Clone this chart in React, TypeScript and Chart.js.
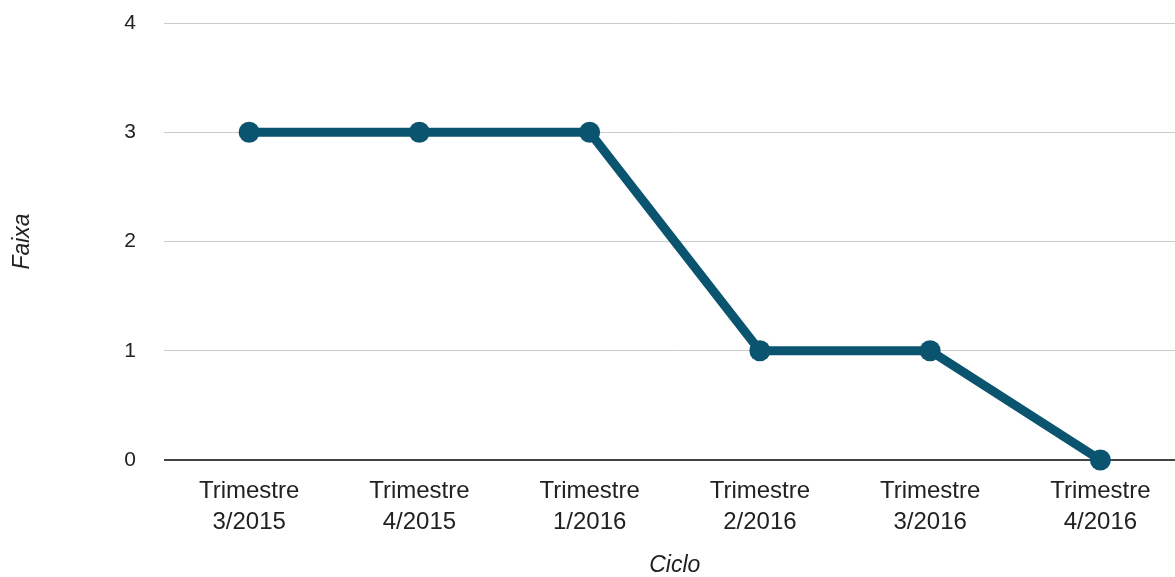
import React, { useEffect, useRef } from "react";
import { Chart, registerables } from "chart.js";

Chart.register(...registerables);

const categories: string[][] = [
  ["Trimestre", "3/2015"],
  ["Trimestre", "4/2015"],
  ["Trimestre", "1/2016"],
  ["Trimestre", "2/2016"],
  ["Trimestre", "3/2016"],
  ["Trimestre", "4/2016"],
];
const faixaValues: number[] = [3, 3, 3, 1, 1, 0];
const yTicks: number[] = [0, 1, 2, 3, 4];

const LINE_COLOR = "#0a5470";
const FONT = "Arial, 'Liberation Sans', sans-serif";

export default function App() {
  const ref = useRef<HTMLCanvasElement | null>(null);

  useEffect(() => {
    if (!ref.current) return;
    const chart = new Chart(ref.current, {
      type: "line",
      data: {
        labels: categories,
        datasets: [
          {
            label: "Faixa",
            data: faixaValues,
            borderColor: LINE_COLOR,
            backgroundColor: LINE_COLOR,
            borderWidth: 9,
            pointRadius: 10.5,
            pointBackgroundColor: LINE_COLOR,
            pointBorderColor: LINE_COLOR,
            pointBorderWidth: 0,
            tension: 0,
            clip: false as any,
          },
        ],
      },
      options: {
        responsive: false,
        animation: false,
        devicePixelRatio: 1,
        layout: { padding: { top: 23, bottom: 0, left: 0, right: 0 } },
        plugins: { legend: { display: false }, tooltip: { enabled: false } },
        scales: {
          x: {
            type: "category",
            offset: true,
            grid: { display: false, drawTicks: false },
            border: { display: false },
            ticks: {
              color: "#222",
              font: { family: FONT, size: 24, lineHeight: "31px" as any },
              padding: 16,
              maxRotation: 0,
              autoSkip: false,
            },
            title: {
              display: true,
              text: "Ciclo",
              color: "#222",
              font: { family: FONT, size: 23, style: "italic", lineHeight: 1 },
              padding: { top: 0, bottom: 0 },
            },
            afterFit: (scale: any) => {
              scale.height = 117;
            },
          },
          y: {
            min: 0,
            max: 4,
            afterBuildTicks: (scale: any) => {
              scale.ticks = yTicks.map((v) => ({ value: v }));
            },
            grid: {
              drawTicks: false,
              color: (ctx: any) => (ctx.tick && ctx.tick.value === 0 ? "#444" : "#cccccc"),
              lineWidth: (ctx: any) => (ctx.tick && ctx.tick.value === 0 ? 2 : 1),
            },
            border: { display: false },
            ticks: {
              color: "#222",
              font: { family: FONT, size: 21 },
              padding: 28,
            },
            title: {
              display: true,
              text: "Faixa",
              color: "#222",
              font: { family: FONT, size: 23, style: "italic", lineHeight: 1.2 },
              padding: { top: 9, bottom: 0 },
            },
            afterFit: (scale: any) => {
              scale.width = 164;
              scale.paddingTop = 0;
              scale.paddingBottom = 0;
            },
          },
        },
      },
    });
    return () => chart.destroy();
  }, []);

  return (
    <div
      style={{
        position: "fixed",
        left: 0,
        top: 0,
        width: 1175,
        height: 577,
        overflow: "hidden",
        background: "#fff",
      }}
    >
      <canvas ref={ref} width={1196} height={577} style={{ display: "block" }} />
    </div>
  );
}
